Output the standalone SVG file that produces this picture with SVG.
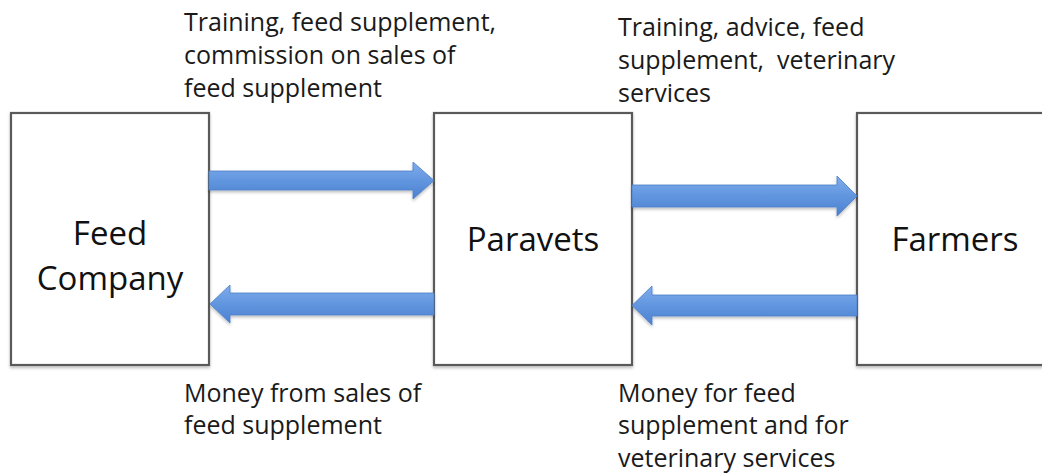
<svg xmlns="http://www.w3.org/2000/svg" width="1042" height="475" viewBox="0 0 1042 475">
<defs>
<linearGradient id="blue" x1="0" y1="0" x2="0" y2="1">
<stop offset="0" stop-color="#80aceb"/>
<stop offset="0.5" stop-color="#6196df"/>
<stop offset="1" stop-color="#4d80cf"/>
</linearGradient>
<filter id="sh" x="-5%" y="-20%" width="110%" height="150%">
<feDropShadow dx="0" dy="2" stdDeviation="1.5" flood-color="#000" flood-opacity="0.25"/>
</filter>
</defs>
<style>
.box{fill:#fff;stroke:#5a5a5a;stroke-width:2.2}
.arr{fill:url(#blue);stroke:#4d7ec8;stroke-width:0.8;filter:url(#sh)}
.lbl{font-family:"Open Sans",sans-serif;font-size:25px;fill:#1a1a1a}
.node{font-family:"Open Sans",sans-serif;font-size:33px;fill:#111;text-anchor:middle}
</style>
<rect width="1042" height="475" fill="#fff"/>
<g id="feed-company">
<rect class="box" x="11" y="113" width="198" height="252" filter="url(#sh)"/>
<text class="node" x="110" y="245">Feed</text>
<text class="node" x="110" y="290">Company</text>
</g>
<g id="paravets">
<rect class="box" x="434" y="113" width="198" height="252" filter="url(#sh)"/>
<text class="node" x="533" y="251">Paravets</text>
</g>
<g id="farmers">
<rect class="box" x="857" y="113" width="200" height="252" filter="url(#sh)"/>
<text class="node" x="955" y="251">Farmers</text>
</g>
<g id="connectors">
<path class="arr" d="M209,171 L413,171 L413,162 L434,180.5 L413,199 L413,190 L209,190 Z"/>
<path class="arr" d="M434,293 L230,293 L230,285 L210,304 L230,323 L230,315 L434,315 Z"/>
<path class="arr" d="M632,185 L837,185 L837,176 L857,196 L837,216 L837,207 L632,207 Z"/>
<path class="arr" d="M857,295 L652,295 L652,286 L632,305.5 L652,325 L652,316 L857,316 Z"/>
</g>
<g id="labels">
<text class="lbl" x="184" y="31">Training, feed supplement,</text>
<text class="lbl" x="184" y="64">commission on sales of</text>
<text class="lbl" x="184" y="97">feed supplement</text>
<text class="lbl" x="618" y="36">Training, advice, feed</text>
<text class="lbl" x="618" y="69" xml:space="preserve">supplement,  veterinary</text>
<text class="lbl" x="618" y="102">services</text>
<text class="lbl" x="184" y="402">Money from sales of</text>
<text class="lbl" x="184" y="434">feed supplement</text>
<text class="lbl" x="618" y="402">Money for feed</text>
<text class="lbl" x="618" y="434">supplement and for</text>
<text class="lbl" x="618" y="467">veterinary services</text>
</g>
</svg>
